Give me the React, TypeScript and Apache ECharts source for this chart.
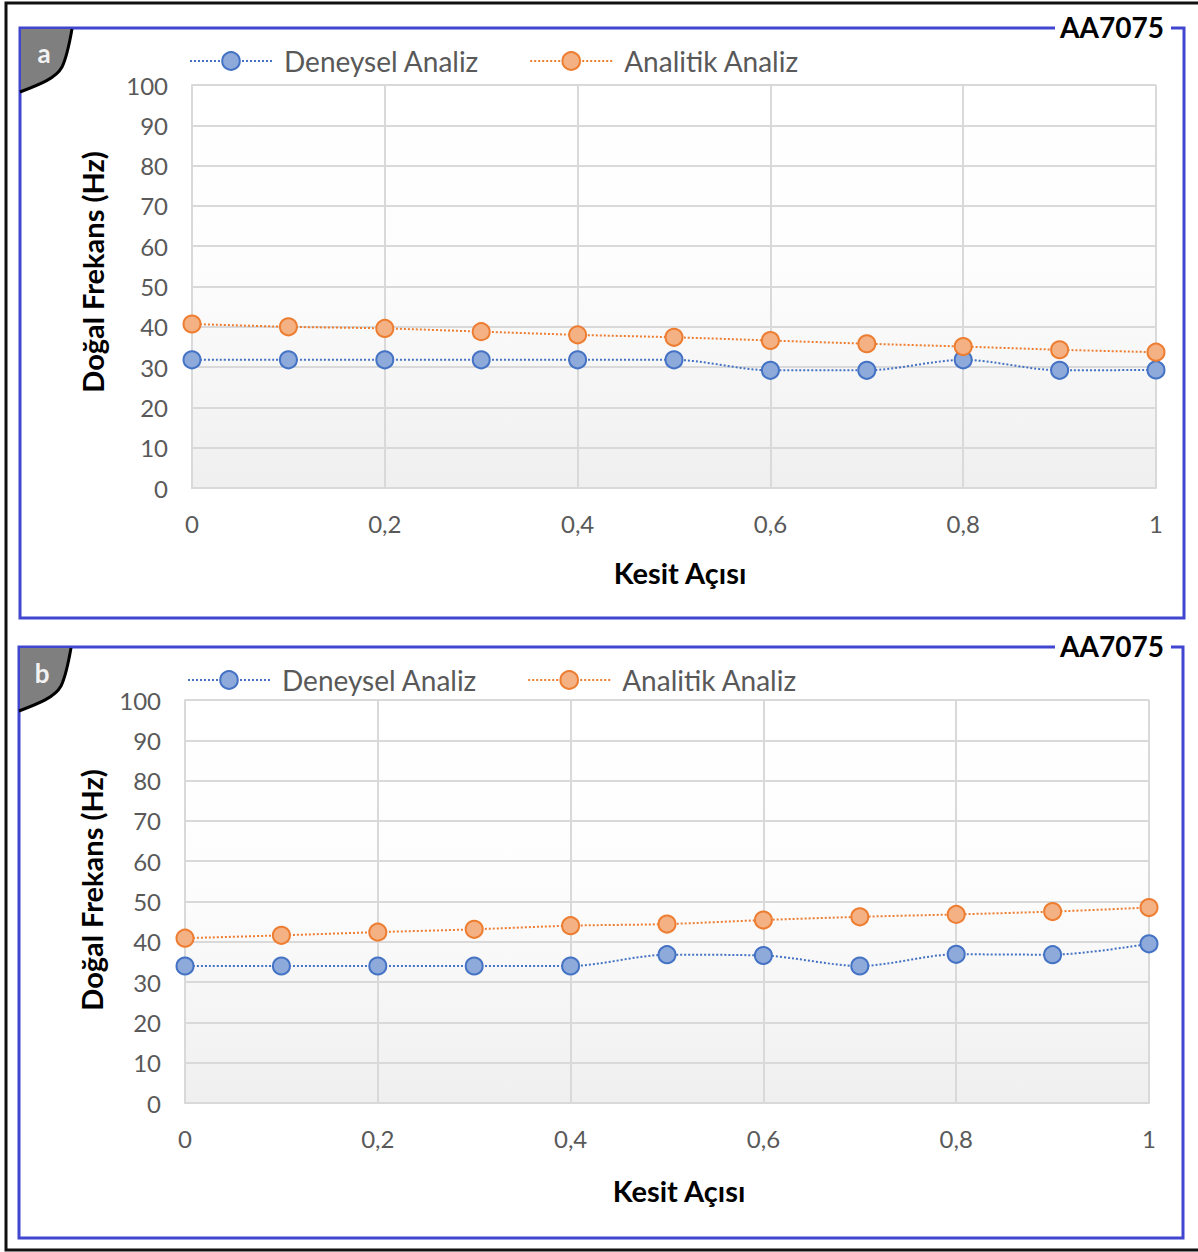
import React, { useEffect, useRef } from "react";
import * as echarts from "echarts";

const xValues = [0, 0.1, 0.2, 0.3, 0.4, 0.5, 0.6, 0.7, 0.8, 0.9, 1];
const aDeneysel = [31.8, 31.8, 31.8, 31.8, 31.8, 31.8, 29.2, 29.2, 31.8, 29.2, 29.3];
const aAnalitik = [40.7, 40.0, 39.6, 38.8, 38.0, 37.4, 36.6, 35.8, 35.1, 34.3, 33.7];
const bDeneysel = [34.0, 34.0, 34.0, 34.0, 34.0, 36.8, 36.6, 34.0, 36.9, 36.8, 39.5];
const bAnalitik = [40.9, 41.6, 42.4, 43.1, 44.0, 44.4, 45.4, 46.2, 46.8, 47.5, 48.5];
const seriesNames = ["Deneysel Analiz", "Analitik Analiz"];
const panelLabels = ["a", "b"];
const materialLabel = "AA7075";
const xTitle = "Kesit Açısı";
const yTitle = "Doğal Frekans (Hz)";

const FONT = "Lato, 'Noto Sans', sans-serif";
const BLUE = "#4472c4";
const ORANGE = "#ed7d31";
const GRID = "#d9d9d9";
const LABEL = "#595959";
const FRAME = "#4046cf";

const tabD = "M0 0 L51 0 C48 17 45 30 41 38 C35 49 20 55 0 62 Z";
const tabCurveD = "M51 0 C48 17 45 30 41 38 C35 49 20 55 -1 63";

let registered = false;
function registerShapes() {
  if (registered) return;
  echarts.graphic.registerShape("tabfill", echarts.graphic.extendPath(tabD, {}));
  echarts.graphic.registerShape("tabcurve", echarts.graphic.extendPath(tabCurveD, {}));
  registered = true;
}

const pairs = (vals: number[]) => xValues.map((x, i) => [x, vals[i]]);

export default function App() {
  const ref = useRef<HTMLDivElement>(null);
  useEffect(() => {
    document.body.style.margin = "0";
    registerShapes();
    const chart = echarts.init(ref.current!, null, { renderer: "svg" });

    const grids = [
      { left: 192, top: 85, width: 964, height: 403 },
      { left: 185, top: 700, width: 964, height: 403 },
    ];
    const bg = {
      type: "linear",
      x: 0,
      y: 0,
      x2: 0,
      y2: 1,
      colorStops: [
        { offset: 0, color: "#ffffff" },
        { offset: 0.45, color: "#fdfdfd" },
        { offset: 1, color: "#efefef" },
      ],
    };

    const xAxis = [0, 1].map((g) => ({
      type: "value",
      gridIndex: g,
      min: 0,
      max: 1,
      interval: 0.2,
      axisLine: { show: true, lineStyle: { color: GRID, width: 2 } },
      axisTick: { show: false },
      splitLine: { show: true, lineStyle: { color: GRID, width: 2 } },
      axisLabel: {
        color: LABEL,
        fontSize: 24,
        fontFamily: FONT,
        margin: 23,
        formatter: (v: number) => String(Math.round(v * 10) / 10).replace(".", ","),
      },
    }));

    const yAxis = [0, 1].map((g) => ({
      type: "value",
      gridIndex: g,
      min: 0,
      max: 100,
      interval: 10,
      axisLine: { show: true, lineStyle: { color: GRID, width: 2 } },
      axisTick: { show: false },
      splitLine: { show: true, lineStyle: { color: GRID, width: 2 } },
      axisLabel: { color: LABEL, fontSize: 24, fontFamily: FONT, margin: 24 },
    }));

    const mkSeries = (name: string, vals: number[], g: number, color: string, fill: string) => ({
      type: "line",
      name,
      xAxisIndex: g,
      yAxisIndex: g,
      data: pairs(vals),
      smooth: 0.3,
      symbol: "circle",
      symbolSize: 17,
      lineStyle: { color, width: 2, type: [2, 2] },
      itemStyle: { color: fill, borderColor: color, borderWidth: 2 },
    });

    const series = [
      mkSeries(seriesNames[0], aDeneysel, 0, BLUE, "#8eaadb"),
      mkSeries(seriesNames[1], aAnalitik, 0, ORANGE, "#f4b183"),
      mkSeries(seriesNames[0], bDeneysel, 1, BLUE, "#8eaadb"),
      mkSeries(seriesNames[1], bAnalitik, 1, ORANGE, "#f4b183"),
    ];

    const legendBase = {
      data: seriesNames,
      itemWidth: 82,
      itemHeight: 22,
      itemGap: 50,
      selectedMode: false,
      textStyle: { color: LABEL, fontSize: 28, fontFamily: FONT, padding: [0, 0, 0, 7] },
    };

    const panels = [
      { x: 20, y: 28, w: 1164, h: 590, lx: 44, ly: 53, ytx: 92, yty: 272, xtx: 680, xty: 572 },
      { x: 19, y: 647, w: 1164, h: 591, lx: 42, ly: 673, ytx: 91, yty: 890, xtx: 679, xty: 1190 },
    ];

    const centered = { align: "center", verticalAlign: "middle", textAlign: "center", textVerticalAlign: "middle" };

    const graphic: any[] = [
      {
        type: "rect",
        shape: { x: 6, y: 3, width: 1200, height: 1247 },
        style: { fill: "none", stroke: "#111", lineWidth: 3 },
        silent: true,
      },
    ];
    panels.forEach((p, i) => {
      graphic.push({
        type: "rect",
        shape: { x: p.x, y: p.y, width: p.w, height: p.h },
        style: { fill: "none", stroke: FRAME, lineWidth: 3 },
        silent: true,
      });
      graphic.push({
        type: "tabfill",
        x: p.x + 1,
        y: p.y + 1,
        style: { fill: "#7f7f7f", stroke: "none" },
        silent: true,
      });
      graphic.push({
        type: "tabcurve",
        x: p.x + 1,
        y: p.y + 1,
        style: { fill: "none", stroke: "#000", lineWidth: 3 },
        silent: true,
      });
      graphic.push({
        type: "text",
        x: p.lx,
        y: p.ly,
        style: { text: panelLabels[i], fill: "#f2f2f2", font: `bold 26px ${FONT}`, ...centered },
        silent: true,
      });
      graphic.push({
        type: "rect",
        shape: { x: 1055, y: p.y - 8, width: 116, height: 16 },
        style: { fill: "#ffffff" },
        silent: true,
      });
      graphic.push({
        type: "text",
        x: 1112,
        y: p.y - 1,
        style: { text: materialLabel, fill: "#000", font: `bold 28px ${FONT}`, ...centered },
        silent: true,
      });
      graphic.push({
        type: "text",
        x: p.ytx,
        y: p.yty,
        rotation: Math.PI / 2,
        style: { text: yTitle, fill: "#000", font: `bold 29px ${FONT}`, ...centered },
        silent: true,
      });
      graphic.push({
        type: "text",
        x: p.xtx,
        y: p.xty,
        style: { text: xTitle, fill: "#000", font: `bold 29px ${FONT}`, ...centered },
        silent: true,
      });
    });

    chart.setOption({
      animation: false,
      backgroundColor: "#ffffff",
      grid: grids.map((g) => ({ ...g, show: true, borderWidth: 0, backgroundColor: bg })),
      legend: [
        { ...legendBase, left: 184, top: 42 },
        { ...legendBase, left: 182, top: 661 },
      ],
      xAxis,
      yAxis,
      series,
      graphic,
    });
    return () => chart.dispose();
  }, []);
  return <div ref={ref} style={{ width: 1198, height: 1252 }} />;
}
